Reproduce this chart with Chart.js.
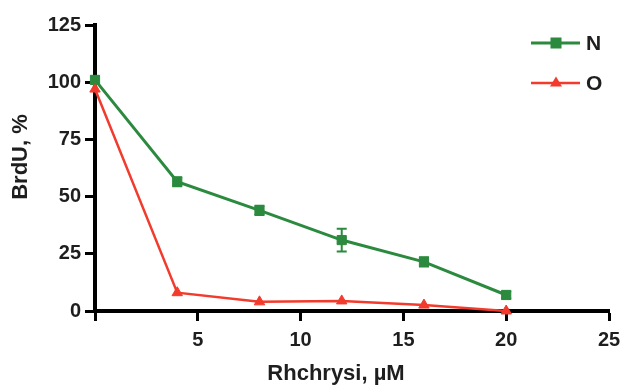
<!DOCTYPE html>
<html>
<head>
<meta charset="utf-8">
<script src="https://cdn.jsdelivr.net/npm/chart.js@4/dist/chart.umd.min.js"></script>
<style>
  html, body { margin: 0; padding: 0; background: #fff; }
  #wrap { width: 621px; height: 387px; }
</style>
</head>
<body>
<div id="wrap"><canvas id="c" width="621" height="387"></canvas></div>
<script>
// ---- data ----
const concentrations = [0, 4, 8, 12, 16, 20];
const seriesNames = ["N", "O"];
const valuesN = [101, 56.5, 44, 31, 21.5, 7];
const errorsN = [1.5, 2, 2, 5, 2, 1.5];
const valuesO = [97, 8, 4, 4.4, 2.6, 0];
const errorsO = [0, 0, 0, 0, 0, 0];
const xTicks = [0, 5, 10, 15, 20, 25];
const yTicks = [0, 25, 50, 75, 100, 125];
const xTitle = "Rhchrysi, \u00b5M";
const yTitle = "BrdU, %";

const GREEN = "#2b8a3e";
const RED = "#f23b2c";
const FONT = "'Liberation Sans', Arial, sans-serif";
const TXT = "#1e1e1e";

function pts(xs, ys) { return xs.map((x, i) => ({ x: x, y: ys[i] })); }

// error bars drawn through the scales
const errorBars = {
  id: "errorBars",
  afterDatasetsDraw(chart) {
    const ctx = chart.ctx;
    const xs = chart.scales.x, ys = chart.scales.y;
    chart.data.datasets.forEach((ds) => {
      const errs = ds.errors || [];
      ctx.save();
      ctx.strokeStyle = ds.borderColor;
      ctx.lineWidth = 2;
      ds.data.forEach((p, i) => {
        const e = errs[i] || 0;
        if (!e) return;
        const px = xs.getPixelForValue(p.x);
        const top = ys.getPixelForValue(p.y + e);
        const bot = ys.getPixelForValue(p.y - e);
        ctx.beginPath();
        ctx.moveTo(px, top); ctx.lineTo(px, bot);
        ctx.moveTo(px - 5, top); ctx.lineTo(px + 5, top);
        ctx.moveTo(px - 5, bot); ctx.lineTo(px + 5, bot);
        ctx.stroke();
      });
      ctx.restore();
    });
  }
};

// axis titles and legend
const decor = {
  id: "decor",
  afterDraw(chart) {
    const ctx = chart.ctx;
    ctx.save();
    ctx.fillStyle = TXT;
    ctx.font = "bold 22px " + FONT;
    ctx.textAlign = "center";
    ctx.textBaseline = "middle";
    ctx.fillText(xTitle, 336, 374);
    ctx.translate(21, 157);
    ctx.rotate(-Math.PI / 2);
    ctx.fillText(yTitle, 0, 0);
    ctx.restore();

    // legend, in the order of seriesNames
    const rows = [43, 83];
    seriesNames.forEach((name, i) => {
      const ds = chart.data.datasets.find(d => d.label === name);
      const y = rows[i];
      ctx.save();
      ctx.strokeStyle = ds.borderColor;
      ctx.lineWidth = ds.borderWidth;
      ctx.beginPath();
      ctx.moveTo(531, y); ctx.lineTo(580, y);
      ctx.stroke();
      ctx.fillStyle = ds.borderColor;
      if (ds.pointStyle === "rect") {
        ctx.fillRect(550.5, y - 5.5, 11, 11);
      } else {
        ctx.beginPath();
        ctx.moveTo(556, y - 6.5);
        ctx.lineTo(562, y + 3.5);
        ctx.lineTo(550, y + 3.5);
        ctx.closePath();
        ctx.fill();
      }
      ctx.fillStyle = TXT;
      ctx.font = "bold 21px " + FONT;
      ctx.textAlign = "left";
      ctx.textBaseline = "middle";
      ctx.fillText(ds.label, 586, y + 1);
      ctx.restore();
    });
  }
};

new Chart(document.getElementById("c"), {
  type: "line",
  data: {
    datasets: [
      {
        label: seriesNames[1],
        data: pts(concentrations, valuesO),
        errors: errorsO,
        borderColor: RED,
        backgroundColor: RED,
        borderWidth: 2.5,
        pointStyle: "triangle",
        pointRadius: 6,
        pointBorderWidth: 1,
        clip: false,
        tension: 0
      },
      {
        label: seriesNames[0],
        data: pts(concentrations, valuesN),
        errors: errorsN,
        borderColor: GREEN,
        backgroundColor: GREEN,
        borderWidth: 3,
        pointStyle: "rect",
        pointRadius: 6.5,
        pointBorderWidth: 1,
        clip: false,
        tension: 0
      }
    ]
  },
  options: {
    responsive: false,
    animation: false,
    devicePixelRatio: 1,
    layout: { padding: { top: 25, right: 12, left: 0, bottom: 0 } },
    plugins: { legend: { display: false }, tooltip: { enabled: false } },
    scales: {
      x: {
        type: "linear",
        min: 0, max: 25,
        afterBuildTicks(scale) { scale.ticks = xTicks.map(v => ({ value: v })); },
        afterFit(scale) { scale.height = 76; scale.paddingRight = 0; scale.paddingLeft = 0; },
        grid: { display: true, drawOnChartArea: false, drawTicks: true, tickLength: 10, tickWidth: 3, tickColor: "#000" },
        border: { display: true, width: 4, color: "#000" },
        ticks: {
          padding: 7,
          color: TXT,
          font: { family: FONT, size: 20, weight: "bold" },
          callback: (v) => (v === 0 ? "" : String(v)),
          maxRotation: 0
        }
      },
      y: {
        type: "linear",
        min: 0, max: 125,
        afterBuildTicks(scale) { scale.ticks = yTicks.map(v => ({ value: v })); },
        afterFit(scale) { scale.width = 95; },
        grid: { display: true, drawOnChartArea: false, drawTicks: true, tickLength: 10, tickWidth: 3, tickColor: "#000" },
        border: { display: true, width: 4, color: "#000" },
        ticks: {
          padding: 4,
          color: TXT,
          font: { family: FONT, size: 20, weight: "bold" }
        }
      }
    }
  },
  plugins: [errorBars, decor]
});
</script>
</body>
</html>
